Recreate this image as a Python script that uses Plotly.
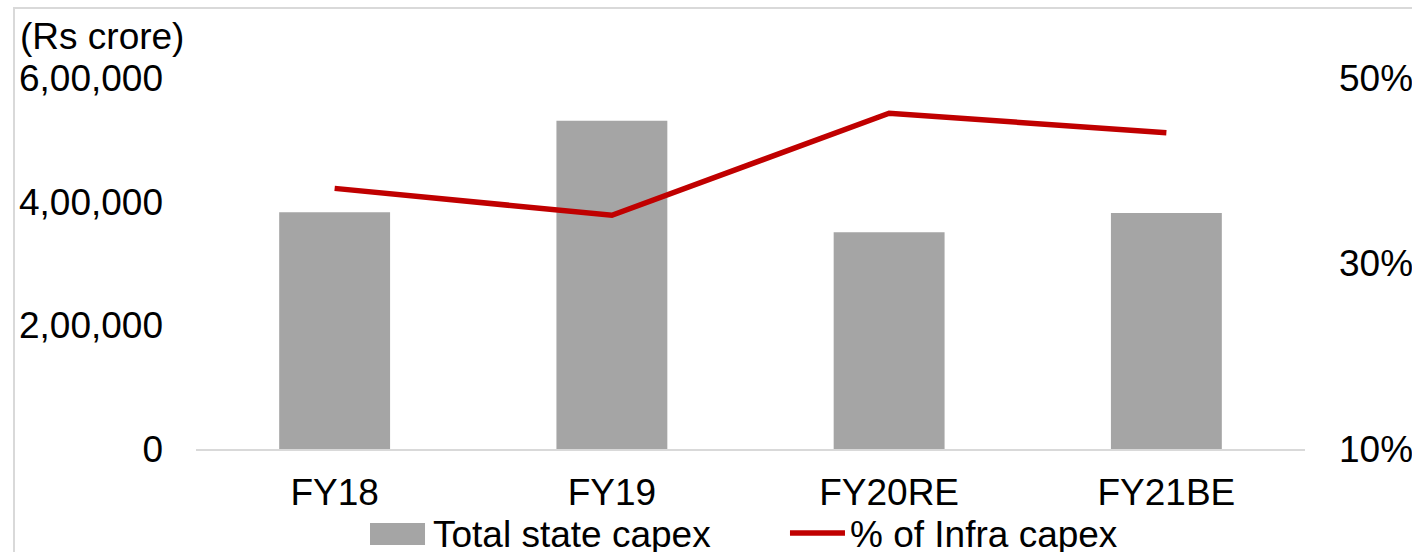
import plotly.graph_objects as go

# Data
years = ["FY18", "FY19", "FY20RE", "FY21BE"]
total_state_capex = [383000, 531000, 350500, 381700]   # Rs crore
infra_capex_share = [38.1, 35.2, 46.2, 44.1]           # % of total

left_tickvals = [0, 200000, 400000, 600000]
left_ticktext = ["0", "2,00,000", "4,00,000", "6,00,000"]
right_tickvals = [10, 30, 50]
right_ticktext = ["10%", "30%", "50%"]

BAR_COLOR = "#a5a5a5"
LINE_COLOR = "#c00000"
FONT = dict(family="Liberation Sans, Arial, sans-serif", size=37, color="black")

fig = go.Figure()

fig.add_trace(go.Bar(
    x=years,
    y=total_state_capex,
    name="Total state capex",
    marker=dict(color=BAR_COLOR, line=dict(width=0)),
    width=0.4,
    showlegend=False,
))

fig.add_trace(go.Scatter(
    x=years,
    y=infra_capex_share,
    name="% of Infra capex",
    mode="lines",
    line=dict(color=LINE_COLOR, width=5.5),
    yaxis="y2",
    showlegend=False,
))

fig.update_layout(
    width=1412,
    height=552,
    margin=dict(l=196, r=107, t=78, b=103, autoexpand=False),
    paper_bgcolor="white",
    plot_bgcolor="white",
    font=FONT,
    xaxis=dict(
        showline=True,
        linecolor="#d9d9d9",
        linewidth=1.5,
        showgrid=False,
        ticks="",
        ticklabelstandoff=10,
        automargin=False,
    ),
    yaxis=dict(
        range=[0, 600000],
        tickvals=left_tickvals,
        ticktext=left_ticktext,
        showgrid=False,
        zeroline=False,
        showline=False,
        ticks="",
        ticklabelstandoff=32,
        automargin=False,
    ),
    yaxis2=dict(
        range=[10, 50],
        tickvals=right_tickvals,
        ticktext=right_ticktext,
        overlaying="y",
        side="right",
        showgrid=False,
        zeroline=False,
        showline=False,
        ticks="",
        ticklabelstandoff=33,
        automargin=False,
    ),
)

# unit label above left axis
fig.add_annotation(
    text="(Rs crore)", xref="paper", yref="paper",
    x=-0.1605, y=1.113, xanchor="left", yanchor="middle",
    showarrow=False, font=FONT,
)

# outer frame (light gray, runs off the right and bottom edge)
fig.add_shape(
    type="rect", xref="paper", yref="paper",
    x0=-0.1641, y0=-0.35, x1=1.15, y1=1.1887,
    line=dict(color="#d9d9d9", width=2), fillcolor="rgba(0,0,0,0)",
    layer="below",
)

# legend drawn by hand to match the wide swatches
fig.add_shape(
    type="rect", xref="paper", yref="paper",
    x0=0.1569, x1=0.2065, y0=-0.2588, y1=-0.1995,
    line=dict(width=0), fillcolor=BAR_COLOR,
)
fig.add_annotation(
    text="Total state capex", xref="paper", yref="paper",
    x=0.2119, y=-0.2318, xanchor="left", yanchor="middle",
    showarrow=False, font=FONT,
)
fig.add_shape(
    type="line", xref="paper", yref="paper",
    x0=0.5356, x1=0.5852, y0=-0.2264, y1=-0.2264,
    line=dict(color=LINE_COLOR, width=5.5),
)
fig.add_annotation(
    text="% of Infra capex", xref="paper", yref="paper",
    x=0.5879, y=-0.2318, xanchor="left", yanchor="middle",
    showarrow=False, font=FONT,
)

# drop the default page margin so the figure sits at the window's corner
fig.write_html(
    "out.html",
    config={"displayModeBar": False},
    post_script="document.body.style.margin='0';",
)
